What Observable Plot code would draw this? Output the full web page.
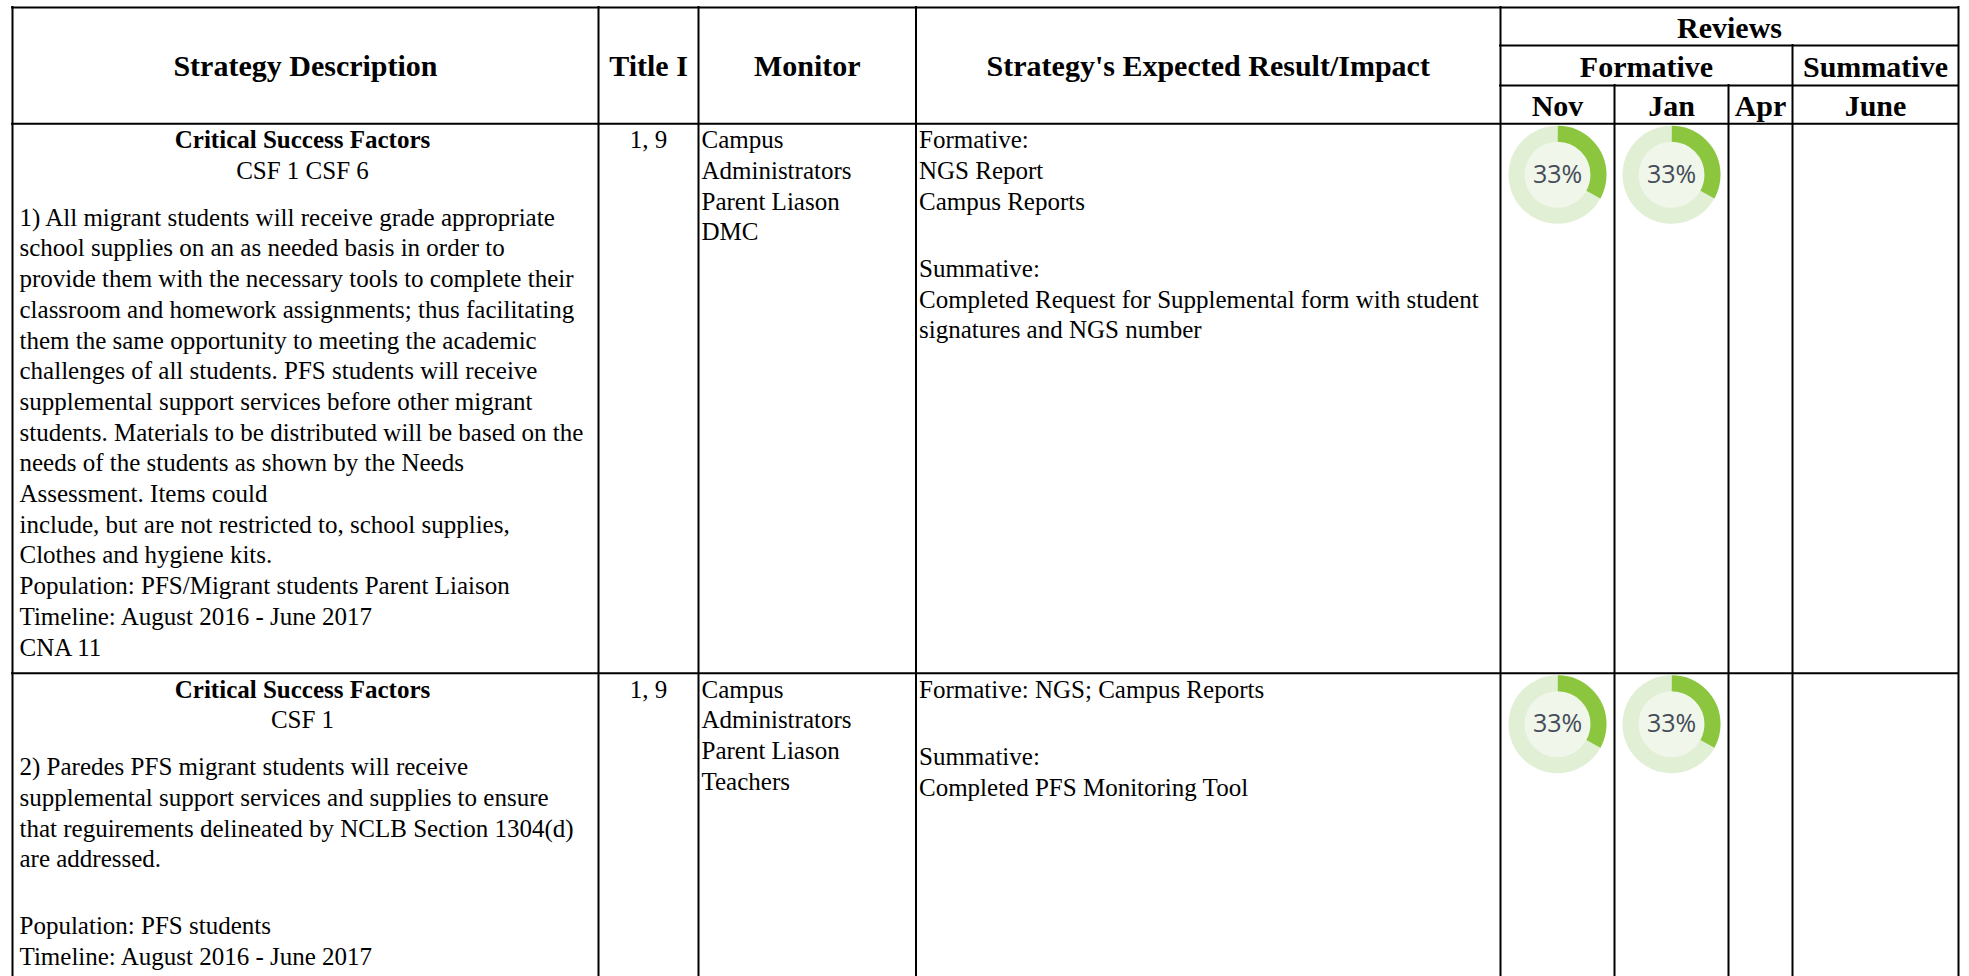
<!DOCTYPE html>
<html>
<head>
<meta charset="utf-8">
<script src="https://cdn.jsdelivr.net/npm/d3@7"></script>
<script src="https://cdn.jsdelivr.net/npm/@observablehq/plot@0.6"></script>
<style>
  html, body { margin: 0; padding: 0; background: #ffffff; }
  #chart svg { display: block; }
</style>
</head>
<body>
<div id="chart"></div>
<script>
// ---------------- DATA ----------------
const headers = ["Strategy Description", "Title I", "Monitor", "Strategy's Expected Result/Impact"];
const reviewGroup = "Reviews";
const reviewTypes = ["Formative", "Summative"];
const reviewMonths = ["Nov", "Jan", "Apr", "June"];

const csfTitle = "Critical Success Factors";
const csfLabels = ["CSF 1 CSF 6", "CSF 1"];

const descriptions = [
  [
    "1) All migrant students will receive grade appropriate",
    "school supplies on an as needed basis in order to",
    "provide them with the necessary tools to complete their",
    "classroom and homework assignments; thus facilitating",
    "them the same opportunity to meeting the academic",
    "challenges of all students. PFS students will receive",
    "supplemental support services before other migrant",
    "students. Materials to be distributed will be based on the",
    "needs of the students as shown by the Needs",
    "Assessment. Items could",
    "include, but are not restricted to, school supplies,",
    "Clothes and hygiene kits.",
    "Population: PFS/Migrant students Parent Liaison",
    "Timeline: August 2016 - June 2017",
    "CNA 11"
  ],
  [
    "2) Paredes PFS migrant students will receive",
    "supplemental support services and supplies to ensure",
    "that reguirements delineated by NCLB Section 1304(d)",
    "are addressed.",
    "",
    "Population: PFS students",
    "Timeline: August 2016 - June 2017"
  ]
];

const titleI = ["1, 9", "1, 9"];

const monitors = [
  ["Campus", "Administrators", "Parent Liason", "DMC"],
  ["Campus", "Administrators", "Parent Liason", "Teachers"]
];

const impacts = [
  ["Formative:", "NGS Report", "Campus Reports", "", "Summative:",
   "Completed Request for Supplemental form with student", "signatures and NGS number"],
  ["Formative: NGS; Campus Reports", "", "Summative:", "Completed PFS Monitoring Tool"]
];

// review completion (%) per row; null = not yet reviewed
const reviewNov  = [33, 33];
const reviewJan  = [33, 33];
const reviewApr  = [null, null];
const reviewJune = [null, null];

// ---------------- LAYOUT ----------------
const L = {
  width: 1969, height: 976,
  colEdges: [12, 598, 698, 915.5, 1500, 1614, 1728, 1792, 1958],
  headerTop: 7, reviewsBottom: 45, formativeBottom: 85, headerBottom: 123.3,
  rowTops: [123.3, 672.7],
  mainHeaderBaseline: 75.5, reviewsBaseline: 37.5, typeBaseline: 76.5, monthBaseline: 115,
  firstBaseline: 24.5, lineH: 30.7, blankH: 36.5, paraGap: 16,
  descPadL: 7, descPadR: 13, cellPad: 3,
  headSize: 30, bodySize: 25,
  donutOffset: 51, donutOuter: 49, donutInner: 33
};
const serif = "'Liberation Serif', 'Times New Roman', Times, serif";
const sans = "'Open Sans', 'DejaVu Sans', sans-serif";
const green = "#8cc63f", ringLight = "#e1efd4", innerFill = "#f0f7ea", labelColor = "#454b59";

const E = L.colEdges;
const mid = i => (E[i] + E[i + 1]) / 2;
const descCenter = (E[0] + L.descPadL + E[1] - L.descPadR) / 2;

// grid lines
const hRules = [
  {y: L.headerTop, x1: E[0], x2: E[8]},
  {y: L.reviewsBottom, x1: E[4], x2: E[8]},
  {y: L.formativeBottom, x1: E[4], x2: E[8]},
  {y: L.headerBottom, x1: E[0], x2: E[8]},
  ...L.rowTops.slice(1).map(t => ({y: t, x1: E[0], x2: E[8]}))
];
const vRules = [
  ...[0, 1, 2, 3, 4, 8].map(i => ({x: E[i], y1: L.headerTop, y2: L.height})),
  {x: E[7], y1: L.reviewsBottom, y2: L.height},
  {x: E[5], y1: L.formativeBottom, y2: L.height},
  {x: E[6], y1: L.formativeBottom, y2: L.height}
];

// text items
const heads = [], bodyMid = [], bodyBoldMid = [], bodyLeft = [];
headers.forEach((h, i) => heads.push({x: mid(i), y: L.mainHeaderBaseline, text: h}));
heads.push({x: (E[4] + E[8]) / 2, y: L.reviewsBaseline, text: reviewGroup});
heads.push({x: (E[4] + E[7]) / 2, y: L.typeBaseline, text: reviewTypes[0]});
heads.push({x: mid(7), y: L.typeBaseline, text: reviewTypes[1]});
reviewMonths.forEach((m, j) => heads.push({x: mid(4 + j), y: L.monthBaseline, text: m}));

function placeLines(lines, start, x, target) {
  let b = start;
  lines.forEach(t => {
    if (t === "") { b += L.blankH; return; }
    target.push({x, y: b, text: t});
    b += L.lineH;
  });
}

L.rowTops.forEach((top, k) => {
  const b0 = top + L.firstBaseline;
  bodyBoldMid.push({x: descCenter, y: b0, text: csfTitle});
  bodyMid.push({x: descCenter, y: b0 + L.lineH, text: csfLabels[k]});
  placeLines(descriptions[k], b0 + 2 * L.lineH + L.paraGap, E[0] + L.descPadL, bodyLeft);
  bodyMid.push({x: mid(1), y: b0, text: titleI[k]});
  placeLines(monitors[k], b0, E[2] + L.cellPad, bodyLeft);
  placeLines(impacts[k], b0, E[3] + L.cellPad, bodyLeft);
});

// donuts
const reviewSeries = [reviewNov, reviewJan, reviewApr, reviewJune];
const donuts = [];
reviewSeries.forEach((s, j) => s.forEach((v, k) => {
  if (v != null) donuts.push({x: mid(4 + j), y: L.rowTops[k] + L.donutOffset, value: v, label: v + "%"});
}));
const rMid = (L.donutOuter + L.donutInner) / 2;
const C = 2 * Math.PI * rMid;

const textOpts = (extra) => Object.assign({x: "x", y: "y", text: "text", lineAnchor: "bottom",
  fontFamily: serif, fill: "#000"}, extra);

const plot = Plot.plot({
  width: L.width, height: L.height,
  marginTop: 0, marginRight: 0, marginBottom: 0, marginLeft: 0,
  x: {type: "linear", domain: [0, L.width], range: [0, L.width], axis: null},
  y: {type: "linear", domain: [0, L.height], range: [0, L.height], axis: null},
  style: {background: "#ffffff", overflow: "visible"},
  marks: [
    Plot.dot(donuts, {x: "x", y: "y", r: L.donutOuter, fill: ringLight, stroke: "none"}),
    Plot.dot(donuts, {x: "x", y: "y", r: L.donutInner, fill: innerFill, stroke: "none"}),
    ...donuts.map(d => {
      const a = d.value / 100 * C;
      return Plot.dot([d], {x: "x", y: "y", r: rMid, fill: "none", stroke: green,
        strokeWidth: L.donutOuter - L.donutInner,
        strokeDasharray: `${a} ${C - a}`, strokeDashoffset: 0.25 * C});
    }),
    Plot.text(donuts, {x: "x", y: "y", text: "label", lineAnchor: "middle", textAnchor: "middle",
      fontFamily: sans, fontSize: 25, fill: labelColor}),
    Plot.ruleY(hRules, {y: "y", x1: "x1", x2: "x2", stroke: "#000", strokeWidth: 2, strokeLinecap: "square"}),
    Plot.ruleX(vRules, {x: "x", y1: "y1", y2: "y2", stroke: "#000", strokeWidth: 2, strokeLinecap: "square"}),
    Plot.text(heads, textOpts({textAnchor: "middle", fontWeight: "bold", fontSize: L.headSize})),
    Plot.text(bodyBoldMid, textOpts({textAnchor: "middle", fontWeight: "bold", fontSize: L.bodySize})),
    Plot.text(bodyMid, textOpts({textAnchor: "middle", fontSize: L.bodySize})),
    Plot.text(bodyLeft, textOpts({textAnchor: "start", fontSize: L.bodySize}))
  ]
});
document.getElementById("chart").appendChild(plot);
</script>
</body>
</html>
